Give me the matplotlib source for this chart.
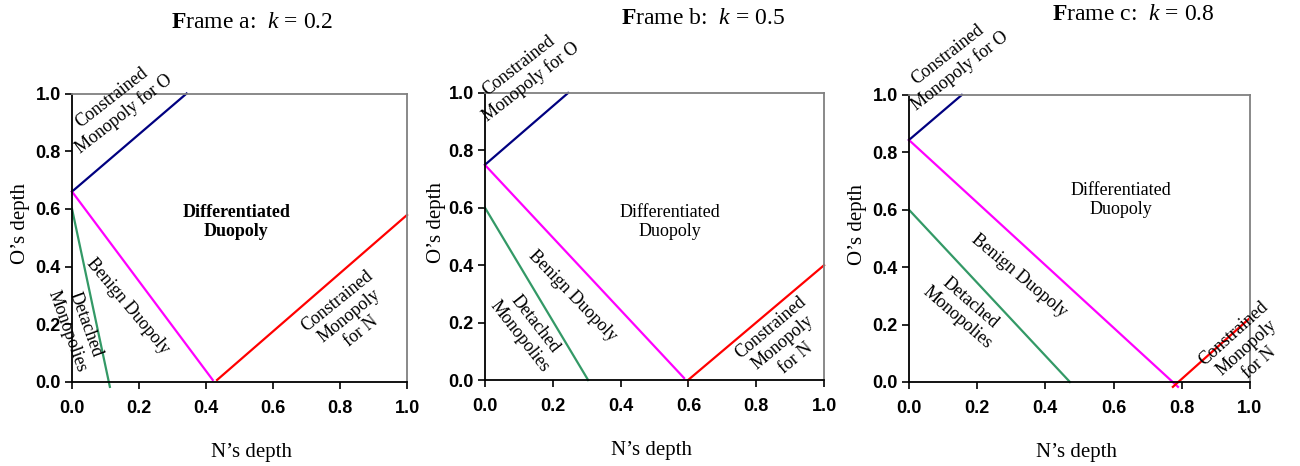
import matplotlib
matplotlib.use("Agg")
import matplotlib.pyplot as plt

plt.rcParams['mathtext.fontset'] = 'custom'
plt.rcParams['mathtext.rm'] = 'Liberation Serif'
plt.rcParams['mathtext.it'] = 'Liberation Serif:italic'
plt.rcParams['mathtext.bf'] = 'Liberation Serif:bold'

# datos: un valor por cuadro (a, b, c)
frames = ['a', 'b', 'c']
k_vals = ['0.2', '0.5', '0.8']

co_x = [[0.0, 0.342], [0.0, 0.245], [0.0, 0.155]]          # monopolio restringido para O
co_y = [[0.66, 1.0], [0.75, 1.0], [0.843, 1.0]]
benign_x = [[0.0, 0.42], [0.0, 0.587], [0.0, 0.789]]       # duopolio benigno
benign_y = [[0.66, 0.007], [0.749, 0.007], [0.843, -0.017]]
detached_x = [[0.0, 0.113], [0.0, 0.304], [0.0, 0.472]]    # monopolios separados
detached_y = [[0.6, -0.017], [0.6, 0.0], [0.6, 0.0]]
cn_x = [[0.433, 1.0], [0.599, 1.0], [0.774, 1.0]]          # monopolio restringido para N
cn_y = [[0.007, 0.579], [0.0, 0.40], [-0.017, 0.223]]

ticks = [0.0, 0.2, 0.4, 0.6, 0.8, 1.0]
tick_labels = ['0.0', '0.2', '0.4', '0.6', '0.8', '1.0']

# posiciones de los rotulos (coordenadas de datos) y rotaciones
lbl_co = [(0.137, 0.956, 38), (0.118, 1.066, 38), (0.132, 1.111, 38)]
lbl_diff = [(0.49, 0.555), (0.546, 0.551), (0.622, 0.634)]
lbl_benign = [(0.166, 0.264, -50), (0.257, 0.293, -46), (0.323, 0.369, -40)]
lbl_det = [(0.012, 0.187, -70), (0.124, 0.174, -52), (0.161, 0.251, -41)]
lbl_cn = [(0.827, 0.229, 39), (0.879, 0.129, 40), (0.99, 0.118, 42)]

# geometria de los ejes (fraccion de figura)
boxes = [[0.0554, 0.1803, 0.2577, 0.619],
         [0.3731, 0.1845, 0.2608, 0.616],
         [0.6992, 0.1803, 0.2623, 0.616]]
title_pos = [(252, 22), (703, 18), (1133, 15)]
ylab_x = [-0.155, -0.142, -0.152]
xlab_x = [0.537, 0.49, 0.49]

serif = 'Liberation Serif'
sans = 'Liberation Sans'

fig = plt.figure(figsize=(13, 4.66), dpi=100)

for i in range(3):
    ax = fig.add_axes(boxes[i])
    ax.plot(co_x[i], co_y[i], color='#000080', lw=1.6, clip_on=False)
    ax.plot(benign_x[i], benign_y[i], color='#FF00FF', lw=1.6, clip_on=False)
    ax.plot(detached_x[i], detached_y[i], color='#339966', lw=1.6, clip_on=False)
    ax.plot(cn_x[i], cn_y[i], color='#FF0000', lw=1.6, clip_on=False)

    ax.set_xlim(0, 1)
    ax.set_ylim(0, 1)
    ax.set_xticks(ticks)
    ax.set_yticks(ticks)
    ax.set_xticklabels(tick_labels, fontfamily=sans, fontweight='bold', fontsize=13)
    ax.set_yticklabels(tick_labels, fontfamily=sans, fontweight='bold', fontsize=13)
    ax.tick_params(direction='out', length=5, width=1.2, color='black')
    ax.tick_params(axis='x', pad=8)
    ax.tick_params(axis='y', pad=3)
    for s in ['left', 'bottom']:
        ax.spines[s].set_color('black')
        ax.spines[s].set_linewidth(1.3)
    for s in ['top', 'right']:
        ax.spines[s].set_color('#808080')
        ax.spines[s].set_linewidth(1.3)

    ax.set_ylabel('O\u2019s depth', fontfamily=serif, fontsize=15, va='center')
    ax.yaxis.set_label_coords(ylab_x[i], 0.548)
    ax.set_xlabel('N\u2019s depth', fontfamily=serif, fontsize=15, va='center')
    ax.xaxis.set_label_coords(xlab_x[i], -0.244)

    x, y, r = lbl_co[i]
    ax.text(x, y, 'Constrained\nMonopoly for O', rotation=r, rotation_mode='anchor',
            ha='center', va='center', multialignment='center',
            fontfamily=serif, fontsize=13, clip_on=False)
    x, y = lbl_diff[i]
    ax.text(x, y, 'Differentiated\nDuopoly', ha='center', va='center',
            multialignment='center', fontfamily=serif, fontsize=13,
            fontweight='bold' if i == 0 else 'normal')
    x, y, r = lbl_benign[i]
    ax.text(x, y, 'Benign Duopoly', rotation=r, rotation_mode='anchor',
            ha='center', va='center', fontfamily=serif, fontsize=13)
    x, y, r = lbl_det[i]
    ax.text(x, y, 'Detached\nMonopolies', rotation=r, rotation_mode='anchor',
            ha='center', va='center', multialignment='center',
            fontfamily=serif, fontsize=13, clip_on=False)
    x, y, r = lbl_cn[i]
    ax.text(x, y, 'Constrained\nMonopoly\nfor N', rotation=r, rotation_mode='anchor',
            ha='center', va='center', multialignment='center',
            fontfamily=serif, fontsize=13, clip_on=False)

    tx, ty = title_pos[i]
    fig.text(tx / 1300, 1 - ty / 466,
             r'$\mathbf{F}$rame ' + frames[i] + r':  $k$ = ' + k_vals[i],
             ha='center', va='center', fontfamily=serif, fontsize=17)

fig.savefig('out.png', dpi=100)
